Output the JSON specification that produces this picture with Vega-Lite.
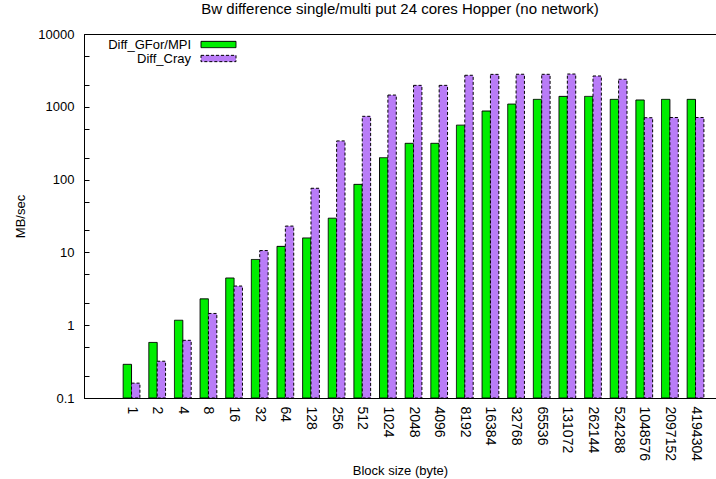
{
  "$schema": "https://vega.github.io/schema/vega-lite/v6.json",
  "width": 632,
  "height": 364,
  "autosize": {"type": "none"},
  "padding": {"left": 84, "top": 34, "right": 0, "bottom": 81},
  "background": "white",
  "title": {
    "text": "Bw difference single/multi put 24 cores Hopper (no network)",
    "fontSize": 15,
    "fontWeight": "normal",
    "font": "Liberation Sans",
    "color": "#000",
    "frame": "group",
    "anchor": "middle",
    "offset": 11
  },
  "config": {
    "font": "Liberation Sans",
    "view": {"stroke": "#000", "strokeWidth": 1},
    "axis": {
      "domainColor": "#000",
      "tickColor": "#000",
      "labelColor": "#000",
      "titleColor": "#000",
      "labelFont": "Liberation Sans",
      "titleFont": "Liberation Sans",
      "labelFontSize": 13,
      "titleFontSize": 13,
      "titleFontWeight": "normal",
      "grid": false
    }
  },
  "data": {
    "values": [
      {"size": "1", "series": "Diff_GFor/MPI", "value": 0.29},
      {"size": "1", "series": "Diff_Cray", "value": 0.16},
      {"size": "2", "series": "Diff_GFor/MPI", "value": 0.58},
      {"size": "2", "series": "Diff_Cray", "value": 0.32},
      {"size": "4", "series": "Diff_GFor/MPI", "value": 1.17},
      {"size": "4", "series": "Diff_Cray", "value": 0.62},
      {"size": "8", "series": "Diff_GFor/MPI", "value": 2.3},
      {"size": "8", "series": "Diff_Cray", "value": 1.45},
      {"size": "16", "series": "Diff_GFor/MPI", "value": 4.45},
      {"size": "16", "series": "Diff_Cray", "value": 3.45},
      {"size": "32", "series": "Diff_GFor/MPI", "value": 8.0},
      {"size": "32", "series": "Diff_Cray", "value": 10.6},
      {"size": "64", "series": "Diff_GFor/MPI", "value": 12.1},
      {"size": "64", "series": "Diff_Cray", "value": 23},
      {"size": "128", "series": "Diff_GFor/MPI", "value": 15.8},
      {"size": "128", "series": "Diff_Cray", "value": 76},
      {"size": "256", "series": "Diff_GFor/MPI", "value": 29.5},
      {"size": "256", "series": "Diff_Cray", "value": 340},
      {"size": "512", "series": "Diff_GFor/MPI", "value": 86},
      {"size": "512", "series": "Diff_Cray", "value": 740},
      {"size": "1024", "series": "Diff_GFor/MPI", "value": 200},
      {"size": "1024", "series": "Diff_Cray", "value": 1450},
      {"size": "2048", "series": "Diff_GFor/MPI", "value": 315},
      {"size": "2048", "series": "Diff_Cray", "value": 1970},
      {"size": "4096", "series": "Diff_GFor/MPI", "value": 315},
      {"size": "4096", "series": "Diff_Cray", "value": 1970},
      {"size": "8192", "series": "Diff_GFor/MPI", "value": 560},
      {"size": "8192", "series": "Diff_Cray", "value": 2710},
      {"size": "16384", "series": "Diff_GFor/MPI", "value": 875},
      {"size": "16384", "series": "Diff_Cray", "value": 2790},
      {"size": "32768", "series": "Diff_GFor/MPI", "value": 1090},
      {"size": "32768", "series": "Diff_Cray", "value": 2800},
      {"size": "65536", "series": "Diff_GFor/MPI", "value": 1265},
      {"size": "65536", "series": "Diff_Cray", "value": 2795},
      {"size": "131072", "series": "Diff_GFor/MPI", "value": 1390},
      {"size": "131072", "series": "Diff_Cray", "value": 2820},
      {"size": "262144", "series": "Diff_GFor/MPI", "value": 1390},
      {"size": "262144", "series": "Diff_Cray", "value": 2650},
      {"size": "524288", "series": "Diff_GFor/MPI", "value": 1265},
      {"size": "524288", "series": "Diff_Cray", "value": 2390},
      {"size": "1048576", "series": "Diff_GFor/MPI", "value": 1240},
      {"size": "1048576", "series": "Diff_Cray", "value": 708},
      {"size": "2097152", "series": "Diff_GFor/MPI", "value": 1265},
      {"size": "2097152", "series": "Diff_Cray", "value": 713},
      {"size": "4194304", "series": "Diff_GFor/MPI", "value": 1265},
      {"size": "4194304", "series": "Diff_Cray", "value": 713}
    ]
  },
  "mark": {"type": "bar", "stroke": "#000", "strokeWidth": 1},
  "encoding": {
    "x": {
      "field": "size",
      "type": "ordinal",
      "sort": null,
      "scale": {"paddingInner": 0.347, "paddingOuter": 1.031, "align": 0.764},
      "axis": {
        "title": "Block size (byte)",
        "labelAngle": 90,
        "labelAlign": "left",
        "labelBaseline": "middle",
        "labelFontSize": 14,
        "labelPadding": 8,
        "ticks": false,
        "titlePadding": 4
      }
    },
    "xOffset": {
      "field": "series",
      "sort": ["Diff_GFor/MPI", "Diff_Cray"]
    },
    "y": {
      "field": "value",
      "type": "quantitative",
      "scale": {"type": "log", "domain": [0.1, 10000], "nice": false},
      "axis": {
        "title": "MB/sec",
        "values": [0.1, 0.2, 0.5, 1, 2, 5, 10, 20, 50, 100, 200, 500, 1000, 2000, 5000, 10000],
        "labelExpr": "indexof([0.1, 1, 10, 100, 1000, 10000], datum.value) >= 0 ? format(datum.value, '~r') : ''",
        "ticks": false,
        "grid": true,
        "gridColor": "#000",
        "gridOpacity": 1,
        "gridWidth": 1,
        "gridDash": [5, 3000],
        "labelPadding": 10,
        "titlePadding": 10
      }
    },
    "y2": {"datum": 0.1},
    "color": {
      "field": "series",
      "type": "nominal",
      "scale": {"domain": ["Diff_GFor/MPI", "Diff_Cray"], "range": ["#00ee00", "#b97cf7"]},
      "legend": {
        "title": null,
        "orient": "none",
        "legendX": 128,
        "legendY": 4,
        "padding": 0,
        "symbolType": "M-5,-0.9H5V0.9H-5Z",
        "symbolSize": 49,
        "symbolStrokeColor": "#000",
        "symbolStrokeWidth": 1,
        "labelAlign": "right",
        "labelOffset": -34,
        "labelFontSize": 13,
        "labelColor": "#000",
        "labelFont": "Liberation Sans",
        "rowPadding": 0
      }
    },
    "strokeDash": {
      "field": "series",
      "type": "nominal",
      "scale": {"domain": ["Diff_GFor/MPI", "Diff_Cray"], "range": [[1, 0], [3, 2]]}
    }
  }
}
